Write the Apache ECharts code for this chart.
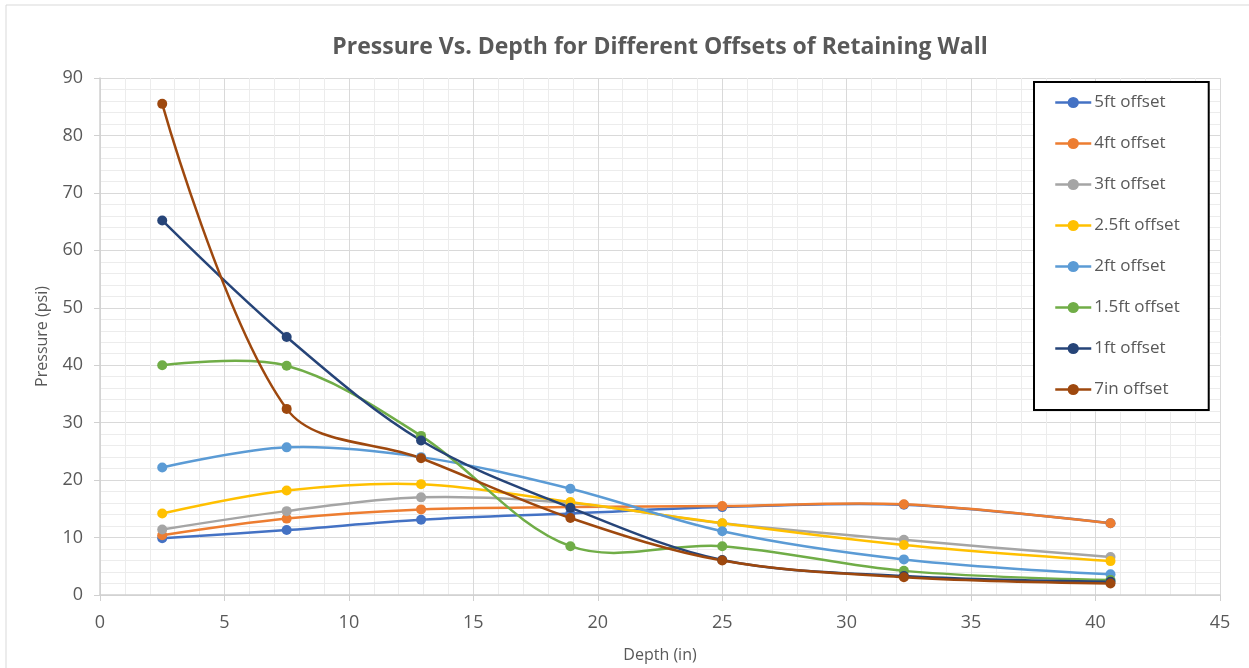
<!DOCTYPE html>
<html>
  <head>
       <meta charset="utf-8">
       <title>Pressure Vs. Depth</title>
       <script src="https://cdn.jsdelivr.net/npm/echarts@6/dist/echarts.min.js"></script>
       <style>
         html, body { margin: 0; padding: 0; background: #fff; }
       </style>
  </head>

  <body>
     <div id="main" style="width: 1249px; height: 668px"></div>
     <script type="text/javascript">
          // depth of each gauge (in)
          var depths = [2.5, 7.5, 12.9, 18.9, 25.0, 32.3, 40.6]

          var names = ['5ft offset', '4ft offset', '3ft offset', '2.5ft offset',
                       '2ft offset', '1.5ft offset', '1ft offset', '7in offset']

          // pressure (psi) per offset
          var p5ft  = [9.9, 11.3, 13.1, 14.2, 15.3, 15.7, 12.5]
          var p4ft  = [10.4, 13.3, 14.9, 15.3, 15.5, 15.8, 12.5]
          var p3ft  = [11.4, 14.6, 17.0, 16.0, 12.5, 9.6, 6.6]
          var p25ft = [14.2, 18.2, 19.3, 16.2, 12.5, 8.7, 5.9]
          var p2ft  = [22.2, 25.7, 24.0, 18.5, 11.1, 6.2, 3.6]
          var p15ft = [40.0, 39.9, 27.7, 8.5, 8.5, 4.2, 2.6]
          var p1ft  = [65.2, 44.9, 26.9, 15.2, 6.1, 3.3, 2.3]
          var p7in  = [85.5, 32.4, 23.8, 13.4, 6.0, 3.1, 2.0]

          var values = [p5ft, p4ft, p3ft, p25ft, p2ft, p15ft, p1ft, p7in]
          var colors = ['#4472C4', '#ED7D31', '#A5A5A5', '#FFC000',
                        '#5B9BD5', '#70AD47', '#264478', '#9E480E']

          var myChart = echarts.init(document.getElementById('main'))

          // excel style smoothed curve (can overshoot, unlike line smooth)
          function curveRenderer(vals, color) {
               return function (params, api) {
                    if (params.dataIndex !== 0) return null
                    var pts = []
                    for (var k = 0; k < depths.length; k++) {
                         pts.push(api.coord([depths[k], vals[k]]))
                    }
                    return {
                         type: 'polyline',
                         shape: { points: pts, smooth: 0.34 },
                         style: { stroke: color, lineWidth: 2.5, fill: null }
                    }
               }
          }

          var series = []
          for (var i = 0; i < names.length; i++) {
               var pts = []
               for (var j = 0; j < depths.length; j++) {
                    pts.push([depths[j], values[i][j]])
               }
               // markers (also gives the legend icon)
               series.push({
                    name: names[i],
                    type: 'line',
                    data: pts,
                    symbol: 'circle',
                    symbolSize: 10,
                    color: colors[i],
                    lineStyle: { width: 2.5, opacity: 0 },
                    z: 3,
                    emphasis: { disabled: true }
               })
               series.push({
                    name: names[i],
                    type: 'custom',
                    data: pts,
                    encode: { x: 0, y: 1 },
                    renderItem: curveRenderer(values[i], colors[i]),
                    z: 2,
                    silent: true
               })
          }

          var font = '"Open Sans", sans-serif'

          var option = {
               animation: false,
               textStyle: { fontFamily: font },
               graphic: [{
                    type: 'rect',
                    shape: { x: 6, y: 5, width: 1250, height: 670 },
                    style: { fill: 'none', stroke: '#d9d9d9', lineWidth: 1 },
                    silent: true
               }],
               title: {
                    text: 'Pressure Vs. Depth for Different Offsets of Retaining Wall',
                    left: 655,
                    textAlign: 'center',
                    top: 31,
                    textStyle: { fontFamily: font, fontSize: 23, fontWeight: 'bold', color: '#595959' }
               },
               legend: {
                    orient: 'vertical',
                    left: 1034,
                    top: 82,
                    padding: [12, 29, 12, 20],
                    itemGap: 24,
                    itemWidth: 36,
                    itemHeight: 14,
                    backgroundColor: '#fff',
                    borderColor: '#000',
                    borderWidth: 2,
                    borderRadius: 0,
                    lineStyle: { opacity: 1, width: 2.5 },
                    textStyle: { fontFamily: font, fontSize: 17, color: '#595959', padding: [0, 0, 0, -2] },
                    data: names
               },
               grid: { left: 100, right: 29, top: 78, bottom: 71 },
               xAxis: {
                    type: 'value',
                    min: 0,
                    max: 45,
                    interval: 5,
                    name: 'Depth (in)',
                    nameLocation: 'middle',
                    nameGap: 52,
                    nameTextStyle: { fontSize: 16, color: '#595959' },
                    axisLine: { show: true, lineStyle: { color: '#d0d0d0', width: 1.5 } },
                    axisTick: { show: true, length: 6, lineStyle: { color: '#d0d0d0' } },
                    axisLabel: { fontSize: 18, color: '#595959', margin: 19 },
                    splitLine: { show: true, lineStyle: { color: '#d9d9d9' } },
                    minorTick: { show: false, splitNumber: 5 },
                    minorSplitLine: { show: true, lineStyle: { color: '#ececec' } }
               },
               yAxis: {
                    type: 'value',
                    min: 0,
                    max: 90,
                    interval: 10,
                    name: 'Pressure (psi)',
                    nameLocation: 'middle',
                    nameRotate: 90,
                    nameGap: 50,
                    nameTextStyle: { fontSize: 16, color: '#595959' },
                    axisLine: { show: true, lineStyle: { color: '#d0d0d0', width: 1.5 } },
                    axisTick: { show: true, length: 6, lineStyle: { color: '#d0d0d0' } },
                    axisLabel: { fontSize: 18, color: '#595959', margin: 17 },
                    splitLine: { show: true, lineStyle: { color: '#d9d9d9' } },
                    minorTick: { show: false, splitNumber: 5 },
                    minorSplitLine: { show: true, lineStyle: { color: '#ececec' } }
               },
               series: series
          }

          myChart.setOption(option)
     </script>
  </body>
</html>
